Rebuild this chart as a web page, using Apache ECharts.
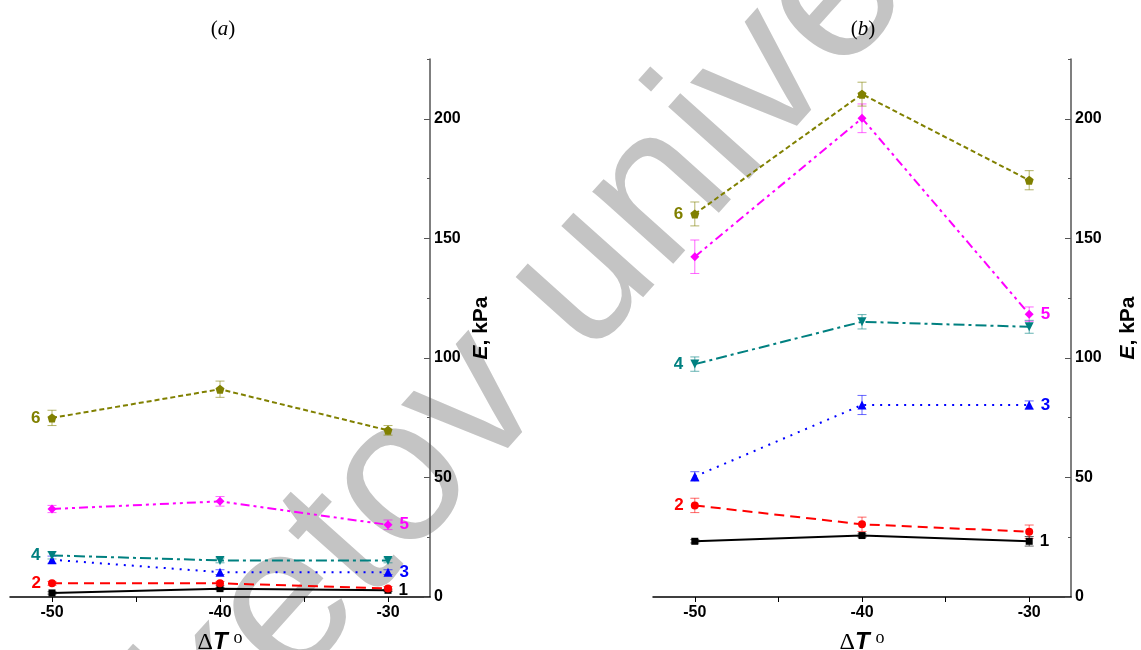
<!DOCTYPE html>
<html>
<head>
<meta charset="utf-8">
<script src="https://cdn.jsdelivr.net/npm/echarts@6/dist/echarts.min.js"></script>
<style>
  html, body { margin: 0; padding: 0; background: #fff; }
  #chart { width: 1141px; height: 650px; }
</style>
</head>
<body>
<div id="chart"></div>
<script>
// ΔT, °C
const xValues = [-50, -40, -30];
const curveNames = ['1', '2', '3', '4', '5', '6'];

// panel (a): E, kPa
const a1 = [1.7, 3.5, 2.8];
const a2 = [5.7, 5.7, 3.6];
const a3 = [15.6, 10.4, 10.4];
const a4 = [17.4, 15.3, 15.3];
const a5 = [36.8, 40.0, 30.2];
const a6 = [74.9, 86.9, 69.7];
// panel (a): error bars
const aErr1 = [0.5, 0.5, 0.5];
const aErr2 = [0.8, 0.8, 0.8];
const aErr3 = [1.5, 1.0, 1.0];
const aErr4 = [1.5, 1.0, 1.0];
const aErr5 = [1.5, 2.0, 2.0];
const aErr6 = [3.2, 3.4, 2.0];

// panel (b): E, kPa
const b1 = [23.3, 25.7, 23.3];
const b2 = [38.3, 30.4, 27.3];
const b3 = [50.4, 80.3, 80.3];
const b4 = [97.4, 115.1, 113.0];
const b5 = [142.3, 200.2, 118.3];
const b6 = [160.2, 210.3, 174.3];
// panel (b): error bars
const bErr1 = [0.7, 0.7, 2.0];
const bErr2 = [3.0, 3.0, 2.8];
const bErr3 = [2.0, 4.0, 1.7];
const bErr4 = [3.0, 3.0, 2.7];
const bErr5 = [7.0, 6.0, 3.0];
const bErr6 = [5.0, 5.0, 4.0];

const yMajorTicks = [0, 50, 100, 150, 200];
const yMinorTicks = [25, 75, 125, 175, 225];
const xTickLabels = [-50, -40, -30];
const xTicks = [-50, -45, -40, -35, -30];

// стиль кривых
const colors = ['#000000', '#ff0000', '#0000ff', '#008080', '#ff00ff', '#808000'];
const dashes = ['solid', [10, 6], [2, 6], [11, 4, 3, 4], [9, 4, 3, 4, 3, 4], [5, 3]];
const pentagon = 'path://M0,-10L9.51,-3.09L5.88,8.09L-5.88,8.09L-9.51,-3.09Z';
const symbols = ['rect', 'circle', 'triangle', 'triangle', 'diamond', pentagon];
const symbolSizes = [7, 8, 9, 9, 9, 9];
const symbolRotates = [0, 0, 0, 180, 0, 0];
// номер кривой: слева у -50 или справа у -30
const labelSide = ['right', 'left', 'right', 'left', 'right', 'left'];

const panels = [
  { values: [a1, a2, a3, a4, a5, a6], errors: [aErr1, aErr2, aErr3, aErr4, aErr5, aErr6] },
  { values: [b1, b2, b3, b4, b5, b6], errors: [bErr1, bErr2, bErr3, bErr4, bErr5, bErr6] }
];

const font = '"Liberation Sans", Arial, sans-serif';
const serif = '"Liberation Serif", "Times New Roman", serif';

function errorBars(params, api) {
  const x = api.value(0), y = api.value(1), e = api.value(2);
  const top = api.coord([x, y + e]);
  const bot = api.coord([x, y - e]);
  const style = { stroke: api.visual('color'), lineWidth: 1, opacity: 0.6 };
  return {
    type: 'group',
    children: [
      { type: 'line', shape: { x1: top[0], y1: top[1], x2: bot[0], y2: bot[1] }, style },
      { type: 'line', shape: { x1: top[0] - 4.5, y1: top[1], x2: top[0] + 4.5, y2: top[1] }, style },
      { type: 'line', shape: { x1: bot[0] - 4.5, y1: bot[1], x2: bot[0] + 4.5, y2: bot[1] }, style }
    ]
  };
}

const series = [];
panels.forEach((panel, p) => {
  panel.values.forEach((vals, i) => {
    const side = labelSide[i];
    const labelIdx = side === 'left' ? 0 : 2;
    series.push({
      type: 'custom',
      name: curveNames[i] + '_err_' + p,
      xAxisIndex: p,
      yAxisIndex: p * 2,
      renderItem: errorBars,
      itemStyle: { color: colors[i] },
      data: xValues.map((x, k) => [x, vals[k], panel.errors[i][k]]),
      z: 3,
      silent: true
    });
    series.push({
      type: 'line',
      name: curveNames[i],
      xAxisIndex: p,
      yAxisIndex: p * 2,
      data: xValues.map((x, k) => {
        const item = { value: [x, vals[k]] };
        if (k === labelIdx) {
          item.label = {
            show: true,
            position: side,
            distance: 7,
            formatter: curveNames[i],
            color: colors[i],
            fontFamily: font,
            fontWeight: 'bold',
            fontSize: 17
          };
        }
        return item;
      }),
      symbol: symbols[i],
      symbolSize: symbolSizes[i],
      symbolRotate: symbolRotates[i],
      showAllSymbol: true,
      lineStyle: { color: colors[i], width: 2, type: dashes[i] },
      itemStyle: { color: colors[i] },
      z: 4,
      animation: false
    });
  });
});

const grids = [
  { left: 10, right: 711, top: 59, bottom: 53, outerBoundsMode: 'none' },
  { left: 653, right: 70, top: 59, bottom: 53, outerBoundsMode: 'none' }
];

const xAxes = grids.map((g, i) => ({
  type: 'value',
  gridIndex: i,
  min: -52.5,
  max: -27.5,
  name: 'Δ{t|T} {o|o}',
  nameLocation: 'middle',
  nameGap: 32,
  nameTextStyle: {
    fontFamily: serif,
    fontSize: 24,
    color: '#000',
    rich: {
      t: { fontFamily: font, fontWeight: 'bold', fontStyle: 'italic', fontSize: 24, color: '#000' },
      o: { fontFamily: serif, fontSize: 18, color: '#000', verticalAlign: 'top', padding: [0, 0, 9, 0] }
    }
  },
  axisLine: { onZero: false, lineStyle: { color: '#000', width: 1.5 } },
  axisTick: { show: true, inside: false, length: 5, customValues: xTicks, lineStyle: { color: '#000', width: 1 } },
  axisLabel: {
    customValues: xTickLabels,
    margin: 8,
    fontFamily: font,
    fontWeight: 'bold',
    fontSize: 16,
    color: '#000'
  },
  splitLine: { show: false }
}));

const yAxes = [];
[41, 47].forEach((gap, i) => {
  yAxes.push({
    type: 'value',
    gridIndex: i,
    position: 'right',
    min: 0,
    max: 225,
    name: '{e|E}, kPa',
    nameLocation: 'middle',
    nameGap: gap,
    nameTextStyle: {
      fontFamily: font,
      fontWeight: 'bold',
      fontSize: 21,
      color: '#000',
      rich: { e: { fontFamily: font, fontWeight: 'bold', fontStyle: 'italic', fontSize: 21, color: '#000' } }
    },
    axisLine: { show: true, lineStyle: { color: '#555', width: 1.5 } },
    axisTick: { show: true, inside: true, length: 6, customValues: yMajorTicks, lineStyle: { color: '#555', width: 1 } },
    axisLabel: {
      customValues: yMajorTicks,
      margin: 4,
      fontFamily: font,
      fontWeight: 'bold',
      fontSize: 16,
      color: '#000'
    },
    splitLine: { show: false }
  });
  yAxes.push({
    type: 'value',
    gridIndex: i,
    position: 'right',
    min: 0,
    max: 225,
    axisLine: { show: false },
    axisTick: { show: true, inside: true, length: 3, customValues: yMinorTicks, lineStyle: { color: '#555', width: 1 } },
    axisLabel: { show: false },
    splitLine: { show: false }
  });
});

const chart = echarts.init(document.getElementById('chart'), null, { renderer: 'canvas' });
chart.setOption({
  backgroundColor: '#fff',
  animation: false,
  title: [
    { text: '({i|a})', left: 218, top: 14, textAlign: 'center',
      textStyle: { fontFamily: serif, fontSize: 21, fontWeight: 'normal', color: '#000',
        rich: { i: { fontFamily: serif, fontStyle: 'italic', fontSize: 21, color: '#000' } } } },
    { text: '({i|b})', left: 858, top: 14, textAlign: 'center',
      textStyle: { fontFamily: serif, fontSize: 21, fontWeight: 'normal', color: '#000',
        rich: { i: { fontFamily: serif, fontStyle: 'italic', fontSize: 21, color: '#000' } } } }
  ],
  graphic: [
    {
      type: 'text',
      x: 112,
      y: 805,
      rotation: 0.84,
      z: -1,
      silent: true,
      style: {
        text: 'sketov university',
        font: '205px "Liberation Sans", Arial, sans-serif',
        fill: '#c4c4c4',
        align: 'left',
        verticalAlign: 'middle'
      }
    }
  ],
  grid: grids,
  xAxis: xAxes,
  yAxis: yAxes,
  series: series
});
</script>
</body>
</html>
